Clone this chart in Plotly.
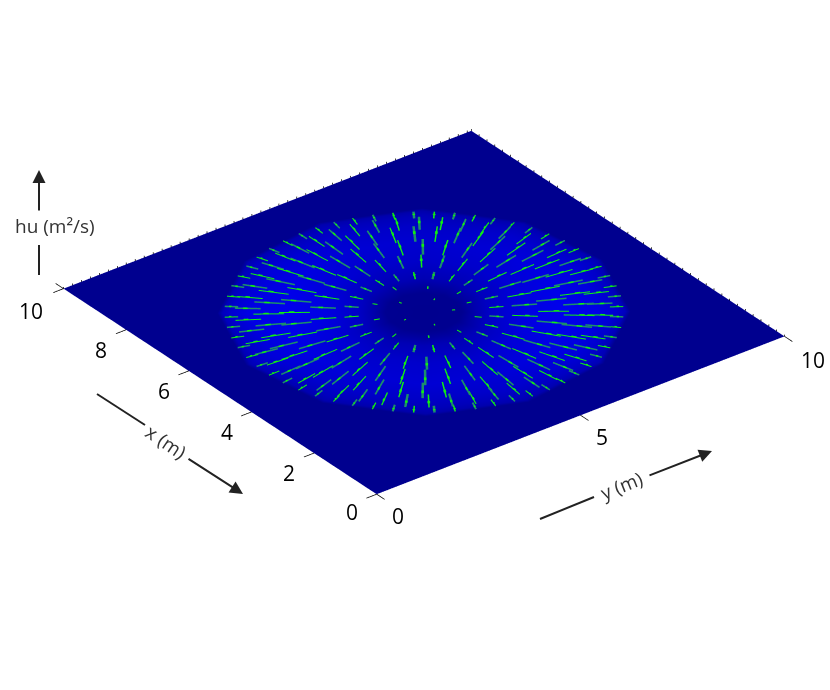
import numpy as np
import plotly.graph_objects as go

# Data (metres, with the disc centred on the tank)
center_m = 5.0
tank_corners_m = [0.0, 10.0]

# hu magnitude on a polar mesh: one row per ring, one column per direction
mesh_radii_m = [0.0, 0.75, 1.0, 1.3, 2.0, 2.8, 3.4, 3.75, 3.92, 4.02]
mesh_angles_deg = [-37, -7, 23, 53, 83, 113, 143, 173, 203, 233, 263, 293, 323]
hu_rows = [
    [0.00, 0.00, 0.00, 0.00, 0.00, 0.00, 0.00, 0.00, 0.00, 0.00, 0.00, 0.00, 0.00],
    [0.02, 0.02, 0.02, 0.02, 0.02, 0.02, 0.03, 0.02, 0.02, 0.02, 0.02, 0.02, 0.02],
    [0.32, 0.24, 0.18, 0.16, 0.18, 0.24, 0.32, 0.24, 0.18, 0.18, 0.18, 0.24, 0.32],
    [0.60, 0.48, 0.40, 0.38, 0.40, 0.48, 0.60, 0.48, 0.40, 0.42, 0.40, 0.48, 0.60],
    [0.88, 0.76, 0.64, 0.60, 0.64, 0.76, 0.90, 0.76, 0.64, 0.64, 0.64, 0.76, 0.88],
    [1.00, 0.90, 0.74, 0.68, 0.74, 0.90, 1.00, 0.90, 0.74, 0.72, 0.74, 0.90, 1.00],
    [0.92, 0.78, 0.64, 0.58, 0.64, 0.78, 0.92, 0.78, 0.64, 0.58, 0.64, 0.78, 0.92],
    [0.70, 0.58, 0.48, 0.44, 0.48, 0.58, 0.70, 0.58, 0.48, 0.44, 0.48, 0.58, 0.70],
    [0.48, 0.40, 0.34, 0.30, 0.34, 0.40, 0.48, 0.40, 0.34, 0.30, 0.34, 0.40, 0.48],
    [0.00, 0.00, 0.00, 0.00, 0.00, 0.00, 0.00, 0.00, 0.00, 0.00, 0.00, 0.00, 0.00],
]

# Velocity arrows on the unstructured mesh: one ring of nodes per row
ring_radii_m = [1.28, 1.72, 2.22, 2.72, 3.18, 3.62]
ring_lengths_m = [0.28, 0.50, 0.60, 0.60, 0.50, 0.26]
ring_steps_deg = [15, 12, 10, 8, 7.2, 6]
ring_offsets_deg = [0, 6, 3, 0, 3.6, 1.5]

# The few short arrows inside the central hole
hole_angles_deg = [10, 48, 85, 125, 160, 200, 238, 275, 312, 345, 30, 105, 182, 255, 330]
hole_radii_m = [0.95, 0.9, 1.0, 0.95, 0.9, 1.0, 0.9, 0.95, 1.0, 0.9, 0.5, 0.55, 0.45, 0.5, 0.55]
hole_lengths_m = [0.12, 0.1, 0.14, 0.1, 0.12, 0.14, 0.1, 0.12, 0.14, 0.1, 0.06, 0.06, 0.05, 0.06, 0.06]

x_ticks = [0, 2, 4, 6, 8, 10]
y_ticks = [0, 5, 10]

NAVY = "#00008f"
LIME = "#10f010"
TEAL = "#1c8f6a"
INK = "#222222"
FONT = "Open Sans"


def paper(px, py):
    return px / 830, 1 - py / 690


def flat_line(xs, ys, z, color, width):
    zs = [None if v is None else z for v in xs]
    return go.Scatter3d(x=xs, y=ys, z=zs, mode="lines", hoverinfo="skip",
                        line=dict(color=color, width=width), showlegend=False)


def add_segment(xs, ys, angle, r0, r1):
    c, s = np.cos(np.radians(angle)), np.sin(np.radians(angle))
    xs += [center_m + r0 * c, center_m + r1 * c, None]
    ys += [center_m + r0 * s, center_m + r1 * s, None]


fig = go.Figure()

# scene x holds y (m) and scene y holds x (m), which gives the reference's handedness
fig.add_trace(go.Surface(
    x=tank_corners_m, y=tank_corners_m, z=[[0, 0], [0, 0]],
    surfacecolor=[[0, 0], [0, 0]], cmin=0, cmax=1,
    colorscale=[[0, NAVY], [1, "#0000ee"]], showscale=False, hoverinfo="skip",
    lighting=dict(ambient=1, diffuse=0, specular=0, fresnel=0),
))

theta = np.radians(mesh_angles_deg)
radius = np.array(mesh_radii_m)
disc_x = center_m + np.outer(radius, np.cos(theta))
disc_y = center_m + np.outer(radius, np.sin(theta))
fig.add_trace(go.Surface(
    x=disc_x, y=disc_y, z=np.full(disc_x.shape, 0.004),
    surfacecolor=hu_rows, cmin=0, cmax=1,
    colorscale=[[0, NAVY], [1, "#0000ee"]], showscale=False, hoverinfo="skip",
    lighting=dict(ambient=1, diffuse=0, specular=0, fresnel=0),
))

# Every other arrow is a dim thick shaft, the rest bright thin ones; all get a bright head
dim_x, dim_y, thin_x, thin_y, head_x, head_y = [], [], [], [], [], []
for r, l, step, offset in zip(ring_radii_m, ring_lengths_m, ring_steps_deg, ring_offsets_deg):
    for i, a in enumerate(np.arange(offset, offset + 359.9, step)):
        if i % 2:
            add_segment(dim_x, dim_y, a, r, r + l)
        else:
            add_segment(thin_x, thin_y, a, r, r + l)
        add_segment(head_x, head_y, a, r + 0.5 * l, r + 0.68 * l)
for a, r, l in zip(hole_angles_deg, hole_radii_m, hole_lengths_m):
    add_segment(thin_x, thin_y, a, r, r + l)
fig.add_trace(flat_line(dim_x, dim_y, 0.008, TEAL, 5))
fig.add_trace(flat_line(thin_x, thin_y, 0.008, LIME, 3))
fig.add_trace(flat_line(head_x, head_y, 0.009, LIME, 5.5))

# Tick marks crossing the front edges
tick_x, tick_y = [], []
for t in x_ticks:
    tick_x += [-0.25, 0, None]
    tick_y += [t, t, None]
for t in y_ticks:
    tick_x += [t, t, None]
    tick_y += [-0.25, 0, None]
tick_x += [0, 0, None]
tick_y += [10, 10.25, None]
fig.add_trace(flat_line(tick_x, tick_y, 0.0, "#000000", 1.5))

# Serrated mesh edge along the two far sides
edge_x, edge_y, edge_z = [], [], []
for v in np.arange(0, 10.01, 0.22):
    edge_x += [v, v, None]
    edge_y += [10, 10, None]
    edge_z += [0, 0.035, None]
for v in np.arange(0, 10.01, 0.25):
    edge_x += [10, 10, None]
    edge_y += [v, v, None]
    edge_z += [0, 0.035, None]
fig.add_trace(go.Scatter3d(x=edge_x, y=edge_y, z=edge_z, mode="lines", hoverinfo="skip",
                           line=dict(color="#000000", width=1.5), showlegend=False))

tick_font = dict(family=FONT, size=21, color="#000000")
scene_labels = []
for t in x_ticks:
    shift = (-33, -22) if t == 10 else (-25, -18 if t == 0 else -20)
    scene_labels.append(dict(x=0, y=t, z=0, text=str(t), showarrow=False, font=tick_font,
                             xshift=shift[0], yshift=shift[1]))
for t in y_ticks:
    shift = (28, -24) if t == 10 else (21, -22)
    scene_labels.append(dict(x=t, y=0, z=0, text=str(t), showarrow=False, font=tick_font,
                             xshift=shift[0], yshift=shift[1]))

hidden = dict(showgrid=False, showline=False, zeroline=False, showticklabels=False,
              showbackground=False, showspikes=False, ticks="", title=dict(text=""))

# Hand-drawn axis captions: line pieces, arrow pieces and the texts between them
line_pieces = [((39, 275), (39, 245)), ((97, 394), (145, 425)), ((540, 519), (594, 497))]
arrow_pieces = [((39, 212), (39, 170)), ((187, 458), (243, 494)), ((648, 476), (712, 451))]
captions = [("hu (m²/s)", 55, 226, 0), ("x (m)", 166, 442, 34), ("y (m)", 621, 486, -22)]

shapes = []
for (p0, p1) in line_pieces:
    x0, y0 = paper(*p0)
    x1, y1 = paper(*p1)
    shapes.append(dict(type="line", xref="paper", yref="paper", x0=x0, y0=y0, x1=x1, y1=y1,
                       line=dict(color=INK, width=2)))

annotations = []
for (p0, p1) in arrow_pieces:
    x1, y1 = paper(*p1)
    annotations.append(dict(xref="paper", yref="paper", x=x1, y=y1, text="", showarrow=True,
                            axref="pixel", ayref="pixel", ax=p0[0] - p1[0], ay=p0[1] - p1[1],
                            arrowhead=2, arrowsize=1.3, arrowwidth=2, arrowcolor=INK))
for text, px, py, angle in captions:
    x, y = paper(px, py)
    annotations.append(dict(xref="paper", yref="paper", x=x, y=y, text=text, showarrow=False,
                            xanchor="center", yanchor="middle",
                            textangle=angle, font=dict(family=FONT, size=19, color="#333333")))

fig.update_layout(
    width=830, height=690,
    margin=dict(l=0, r=0, t=0, b=0),
    paper_bgcolor="white",
    showlegend=False,
    shapes=shapes,
    annotations=annotations,
    scene=dict(
        domain=dict(x=[0.022, 1], y=[0.094, 1]),
        xaxis=dict(range=[-0.5, 10.5], **hidden),
        yaxis=dict(range=[-0.5, 10.5], **hidden),
        zaxis=dict(range=[-0.1, 0.1], **hidden),
        aspectmode="manual",
        aspectratio=dict(x=1.81, y=1.81, z=0.0362),
        camera=dict(
            projection=dict(type="orthographic"),
            up=dict(x=0, y=0, z=1),
            center=dict(x=0, y=0, z=0),
            eye=dict(x=-1.052, y=-1.370, z=1.008),
        ),
        annotations=scene_labels,
    ),
)

# The browser's default body margin would push the plot 8 px off
fig.write_html("out.html", config={"displayModeBar": False},
               post_script="document.body.style.margin = '0';")
